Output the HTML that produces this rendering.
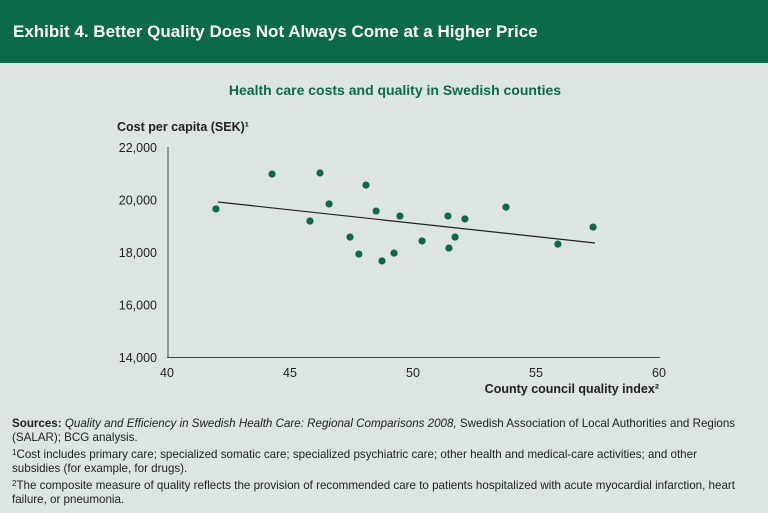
<!DOCTYPE html>
<html><head><meta charset="utf-8"><style>
body{margin:0;width:768px;height:513px;background:#dce5df;font-family:"Liberation Sans",sans-serif;overflow:hidden;position:relative}
.hdr{position:absolute;left:0;top:0;width:768px;height:63px;background:#0b6a48;color:#fff;font-weight:bold;font-size:17px;line-height:63px;padding-left:13px;box-sizing:border-box}
.notes{position:absolute;left:12px;top:417px;width:732px;font-size:11.6px;line-height:13.5px;color:#222}
.notes p{margin:0 0 2px 0}
.s{font-size:8px;vertical-align:3px}
</style></head><body>
<div class="hdr">Exhibit 4. Better Quality Does Not Always Come at a Higher Price</div>
<svg width="768" height="513" style="position:absolute;left:0;top:0" id="chart">
<text x="395" y="95" text-anchor="middle" font-size="14" font-weight="bold" fill="#0b6a48">Health care costs and quality in Swedish counties</text>
<text x="117" y="131" font-size="12.5" font-weight="bold" fill="#222">Cost per capita (SEK)¹</text>
<text x="659" y="393" text-anchor="end" font-size="12.5" font-weight="bold" fill="#222">County council quality index²</text>
<g id="axes"></g><g id="marks"></g>
</svg>
<div class="notes"><p><b>Sources:</b> <i>Quality and Efficiency in Swedish Health Care: Regional Comparisons 2008,</i> Swedish Association of Local Authorities and Regions (SALAR); BCG analysis.</p><p><span class="s">1</span>Cost includes primary care; specialized somatic care; specialized psychiatric care; other health and medical-care activities; and other subsidies (for example, for drugs).</p><p><span class="s">2</span>The composite measure of quality reflects the provision of recommended care to patients hospitalized with acute myocardial infarction, heart failure, or pneumonia.</p></div>
<script>
const xTicks=[40,45,50,55,60];
const yTicks=[14000,16000,18000,20000,22000];
const quality=[41.99,44.27,46.22,45.81,46.59,48.09,47.44,47.8,48.5,48.74,49.23,49.47,50.37,51.42,51.46,51.71,52.11,53.78,55.89,57.32];
const cost=[19640,20970,21010,19180,19830,20550,18570,17920,19560,17660,17960,19370,18420,19370,18150,18570,19260,19710,18300,18950];
const trendX=[42.07,57.4];
const trendY=[19905,18343];
const NS="http://www.w3.org/2000/svg";
const sx=v=>167+(v-40)*24.6, sy=v=>357-(v-14000)*0.02625;
const ax=document.getElementById('axes'), mk=document.getElementById('marks');
function el(t,a,p){const e=document.createElementNS(NS,t);for(const k in a)e.setAttribute(k,a[k]);p.appendChild(e);return e;}
const yl=el('line',{x1:168,y1:147,x2:168,y2:357,stroke:'#444','stroke-width':1},ax);


const xl=el('line',{x1:167,y1:357.5,x2:660,y2:357.5,stroke:'#444','stroke-width':1},ax);


xTicks.forEach(v=>{const t=el('text',{x:sx(v),y:377,'text-anchor':'middle','font-size':12.5,fill:'#222'},ax);t.textContent=v;

});
yTicks.forEach(v=>{const t=el('text',{x:157,y:sy(v)+5,'text-anchor':'end','font-size':12.5,fill:'#222'},ax);t.textContent=v.toLocaleString('en-US');

});
const tl=el('line',{x1:sx(trendX[0]),y1:sy(trendY[0]),x2:sx(trendX[1]),y2:sy(trendY[1]),stroke:'#222','stroke-width':1.2},mk);


quality.forEach((q,i)=>{const c=el('circle',{cx:sx(q),cy:sy(cost[i]),r:3.6,fill:'#0b6a48'},mk);

});
</script>
</body></html>
